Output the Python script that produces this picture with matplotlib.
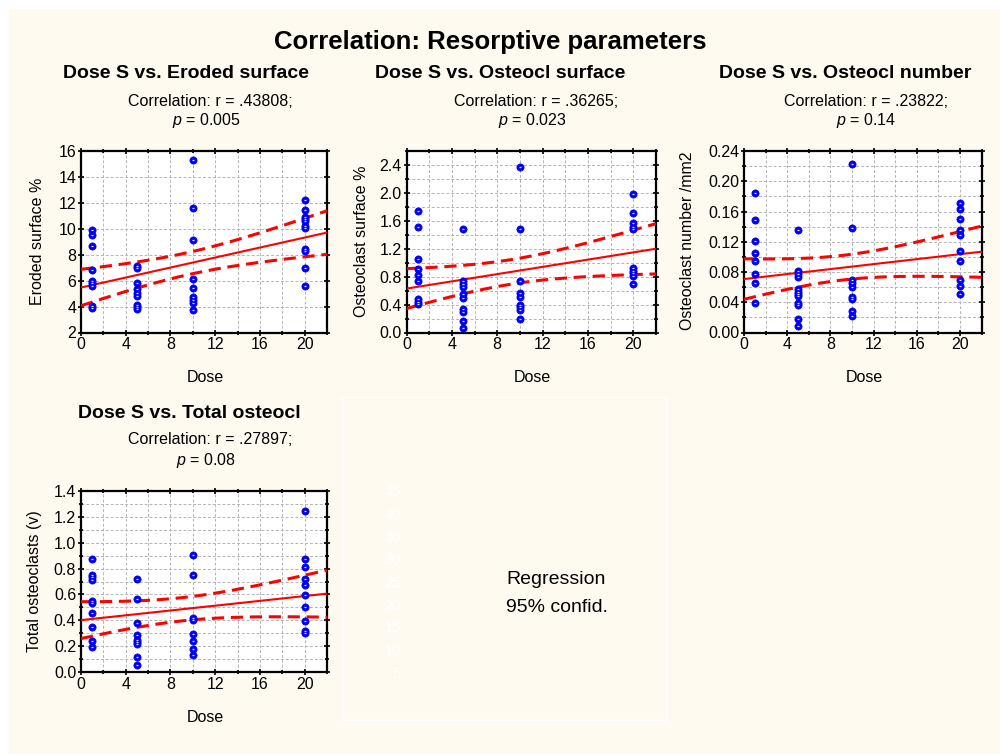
import numpy as np
import matplotlib
matplotlib.use("Agg")
import matplotlib.pyplot as plt
from matplotlib.ticker import MultipleLocator, FormatStrFormatter
from matplotlib.patches import Rectangle

plt.rcParams['font.family'] = 'Liberation Sans'
plt.rcParams['mathtext.fontset'] = 'custom'
plt.rcParams['mathtext.rm'] = 'Liberation Sans'
plt.rcParams['mathtext.it'] = 'Liberation Sans:italic'

# values, grouped by dose
doses = [1, 5, 10, 20]
eroded = {1: [9.9, 9.5, 8.7, 6.85, 5.95, 5.8, 5.6, 4.05, 3.9],
          5: [7.15, 6.98, 5.83, 5.34, 5.06, 4.83, 4.13, 3.98, 3.8],
          10: [15.33, 11.63, 9.16, 6.13, 5.47, 4.75, 4.52, 4.31, 3.77],
          20: [12.25, 11.48, 10.91, 10.73, 10.58, 10.19, 10.04, 8.45, 8.27, 7.01, 5.62]}
oc_surface = {1: [1.74, 1.51, 1.06, 0.91, 0.82, 0.74, 0.48, 0.44, 0.41],
              5: [1.48, 0.74, 0.69, 0.65, 0.55, 0.50, 0.34, 0.30, 0.16, 0.07],
              10: [2.37, 1.48, 0.74, 0.57, 0.51, 0.40, 0.36, 0.32, 0.19],
              20: [1.99, 1.71, 1.57, 1.51, 1.48, 0.92, 0.88, 0.85, 0.81, 0.70]}
oc_number = {1: [0.184, 0.149, 0.121, 0.105, 0.094, 0.078, 0.065, 0.039],
             5: [0.136, 0.081, 0.077, 0.074, 0.057, 0.054, 0.051, 0.048, 0.039, 0.036, 0.018, 0.009],
             10: [0.223, 0.138, 0.070, 0.065, 0.060, 0.047, 0.044, 0.028, 0.022],
             20: [0.171, 0.163, 0.150, 0.135, 0.129, 0.108, 0.094, 0.070, 0.062, 0.051]}
total_oc = {1: [0.872, 0.754, 0.733, 0.715, 0.553, 0.533, 0.455, 0.347, 0.242, 0.193],
            5: [0.718, 0.566, 0.378, 0.288, 0.250, 0.229, 0.22, 0.116, 0.054],
            10: [0.903, 0.751, 0.417, 0.404, 0.291, 0.242, 0.178, 0.131],
            20: [1.243, 0.872, 0.811, 0.723, 0.672, 0.594, 0.502, 0.396, 0.319, 0.299]}

titles = ["Dose S vs. Eroded surface", "Dose S vs. Osteocl surface",
          "Dose S vs. Osteocl number", "Dose S vs. Total osteocl"]
r_text = ["Correlation: r = .43808;", "Correlation: r = .36265;",
          "Correlation: r = .23822;", "Correlation: r = .27897;"]
p_text = ["$p$ = 0.005", "$p$ = 0.023", "$p$ = 0.14", "$p$ = 0.08"]
ylabels = ["Eroded surface %", "Osteoclast surface %",
           "Osteoclast number /mm2", "Total osteoclasts (v)"]
ghost_ticks = ["45", "40", "35", "30", "25", "20", "15", "10", "5"]

cream = '#fffaf0'
W, H = 1000, 754


def px(x, y):
    return x / W, 1 - y / H


def t975(df):
    z = 1.959964
    return z + (z**3 + z) / (4 * df) + (5 * z**5 + 16 * z**3 + 3 * z) / (96 * df**2)


def panel(rect, data, ylim, ymaj, fmt, yminor):
    x0, y0, x1, y1 = rect
    ax = fig.add_axes([x0 / W, 1 - y1 / H, (x1 - x0) / W, (y1 - y0) / H])
    x = np.concatenate([[d] * len(data[d]) for d in doses]).astype(float)
    y = np.concatenate([data[d] for d in doses])
    # linear fit and 95% band of the mean
    n = len(x)
    b, a = np.polyfit(x, y, 1)
    xs = np.linspace(0, 22, 200)
    yh = a + b * xs
    s = np.sqrt(np.sum((y - (a + b * x))**2) / (n - 2))
    sxx = np.sum((x - x.mean())**2)
    half = t975(n - 2) * s * np.sqrt(1 / n + (xs - x.mean())**2 / sxx)
    ax.plot(xs, yh, color='red', lw=1.5, zorder=3)
    ax.plot(xs, yh + half, color='red', lw=2.2, dashes=(4, 2.2), zorder=3)
    ax.plot(xs, yh - half, color='red', lw=2.2, dashes=(4, 2.2), zorder=3)
    ax.plot(x, y, 'o', ms=5.2, mfc='#0000ff', mec='#0000dd', mew=0.5, zorder=4)
    ax.plot(x, y, '_', ms=1.6, mew=0.9, color='#d8deff', zorder=5)
    ax.set_xlim(0, 22)
    ax.set_ylim(*ylim)
    ax.xaxis.set_major_locator(MultipleLocator(4))
    ax.xaxis.set_minor_locator(MultipleLocator(2))
    ax.yaxis.set_major_locator(MultipleLocator(ymaj))
    if yminor:
        ax.yaxis.set_minor_locator(MultipleLocator(ymaj / 2))
    ax.yaxis.set_major_formatter(FormatStrFormatter(fmt))
    ax.grid(True, which='both', color='#b4b4b4', lw=0.7, dashes=(3, 2))
    ax.set_axisbelow(True)
    for sp in ax.spines.values():
        sp.set_linewidth(1.6)
    ax.tick_params(which='major', direction='inout', length=4, width=1.2, labelsize=11.5,
                   pad=1.5, top=True, right=True)
    ax.tick_params(which='minor', direction='inout', length=3, width=1.2, top=True, right=True)
    ax.set_facecolor('white')
    return ax


fig = plt.figure(figsize=(10, 7.54), dpi=100, facecolor='white')
fig.patches.append(Rectangle(px(9, 754), 1, 1 - 9 / H, transform=fig.transFigure,
                             color=cream, zorder=-10))

fig.text(*px(490, 42), "Correlation: Resorptive parameters", ha='center', va='center',
         fontsize=18.5, fontweight='bold')

rects = [(81, 151, 327, 332.5), (406.5, 151, 656, 332.5),
         (744, 151, 981.5, 332.5), (81, 491, 327, 672)]
datas = [eroded, oc_surface, oc_number, total_oc]
ylims = [(2, 16), (0, 2.6), (0, 0.24), (0, 1.4)]
ymajs = [2, 0.4, 0.04, 0.2]
yminors = [False, True, True, True]
fmts = ['%d', '%.1f', '%.2f', '%.1f']
title_pos = [(186, 74), (500, 74), (845, 74), (189, 413)]
r_pos = [(210, 101), (536, 101), (866, 101), (210, 440)]
p_pos = [(206, 121), (532, 121), (866, 121), (206, 461)]
xl_pos = [(205, 377), (532, 377), (864, 377), (205, 717)]
yl_pos = [(37, 241), (362, 241), (688, 241), (35, 581)]

for i in range(4):
    panel(rects[i], datas[i], ylims[i], ymajs[i], fmts[i], yminors[i])
    fig.text(*px(*title_pos[i]), titles[i], ha='center', va='center',
             fontsize=14, fontweight='bold')
    fig.text(*px(*r_pos[i]), r_text[i], ha='center', va='center', fontsize=11.5)
    fig.text(*px(*p_pos[i]), p_text[i], ha='center', va='center', fontsize=11.5)
    fig.text(*px(*xl_pos[i]), "Dose", ha='center', va='center', fontsize=11.5)
    fig.text(*px(*yl_pos[i]), ylabels[i], ha='center', va='center', fontsize=11.5,
             rotation=90)

# empty legend box at bottom middle
fig.patches.append(Rectangle(px(342, 720), 324 / W, 323 / H, transform=fig.transFigure,
                             fill=False, ec='white', lw=1, zorder=-5))
for k, lab in enumerate(ghost_ticks):
    fig.text(*px(401, 492 + k * 22.7), lab, ha='right', va='center', fontsize=10.5,
             color='#ffffff')
fig.text(*px(506, 580), "Regression", ha='left', va='center', fontsize=14)
fig.text(*px(506, 607), "95% confid.", ha='left', va='center', fontsize=14)

fig.savefig('out.png', dpi=100, facecolor=fig.get_facecolor())
